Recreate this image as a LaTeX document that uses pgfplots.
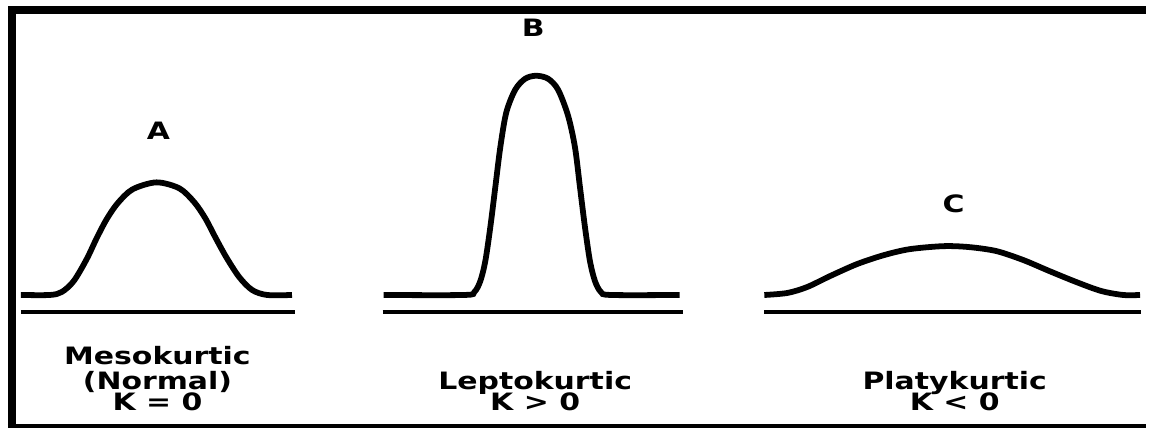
\documentclass[border=0pt]{standalone}
\usepackage{fontspec}
\usepackage{graphicx}
\usepackage{pgfplots}
\pgfplotsset{compat=1.18}
\newfontfamily\labfont{DejaVu Sans}
\newcommand{\lab}[1]{\scalebox{1.25}[1]{\labfont\bfseries\fontsize{12}{14}\selectfont #1}}

\begin{document}
\begin{tikzpicture}
\begin{axis}[
    width=575pt, height=214.5pt, scale only axis,
    hide axis, clip=false,
    xmin=0, xmax=1150, ymin=0, ymax=429,
    y dir=reverse,
    every axis plot/.append style={black, no marks},
]
\path (rel axis cs:0,0) rectangle (rel axis cs:1,1);
% frame (right edge cut off)
\addplot[line width=4pt, line join=miter] coordinates {(12,429) (12,10) (1150,10)};
\addplot[line width=2pt] coordinates {(8,427) (1150,427)};

% base lines
\addplot[line width=2.4pt] coordinates {(21,313) (296,313)};
\addplot[line width=2.4pt] coordinates {(384,313) (685,313)};
\addplot[line width=2.4pt] coordinates {(767,313) (1145,313)};

% A: mesokurtic
\addplot[line width=2.9pt, smooth] coordinates {
(21,296) (50,296) (62,293) (74,282) (87,260) (97,239) (107,220) (118,204)
(133,190) (157,183) (180,189) (195,203) (206,219) (216,238) (227,258)
(240,278) (253,291) (268,296) (293,296)
};
% B: leptokurtic
\addplot[line width=2.9pt, smooth] coordinates {
(385,296) (466,296) (476,293) (482,282) (487,262) (492,228) (497,188) (502,148)
(508,113) (517,90) (527,79) (538,76) (550,79) (560,90) (570,116)
(577,148) (582,188) (587,228) (592,262) (597,282) (603,293) (613,296) (682,296)
};
% C: platykurtic
\addplot[line width=2.9pt, smooth] coordinates {
(767,296) (790,294) (810,288) (833,277) (860,265) (887,256) (913,250)
(947,247) (973,248) (1000,252) (1027,261) (1053,272) (1080,283)
(1105,292) (1127,296) (1144,296)
};

\begin{scope}[every node/.style={anchor=base, inner sep=0pt, text height=8.5pt, text depth=0pt}]
\node at (axis cs:159,140) {\lab{A}};
\node at (axis cs:535,37) {\lab{B}};
\node at (axis cs:957,213) {\lab{C}};

\node at (axis cs:158,366) {\lab{Mesokurtic}};
\node at (axis cs:158,391) {\lab{(Normal)}};
\node at (axis cs:158,412) {\lab{K = 0}};
\node at (axis cs:537,391) {\lab{Leptokurtic}};
\node at (axis cs:537,412) {\lab{K > 0}};
\node at (axis cs:958,391) {\lab{Platykurtic}};
\node at (axis cs:958,412) {\lab{K < 0}};
\end{scope}
\end{axis}
\end{tikzpicture}
\end{document}
